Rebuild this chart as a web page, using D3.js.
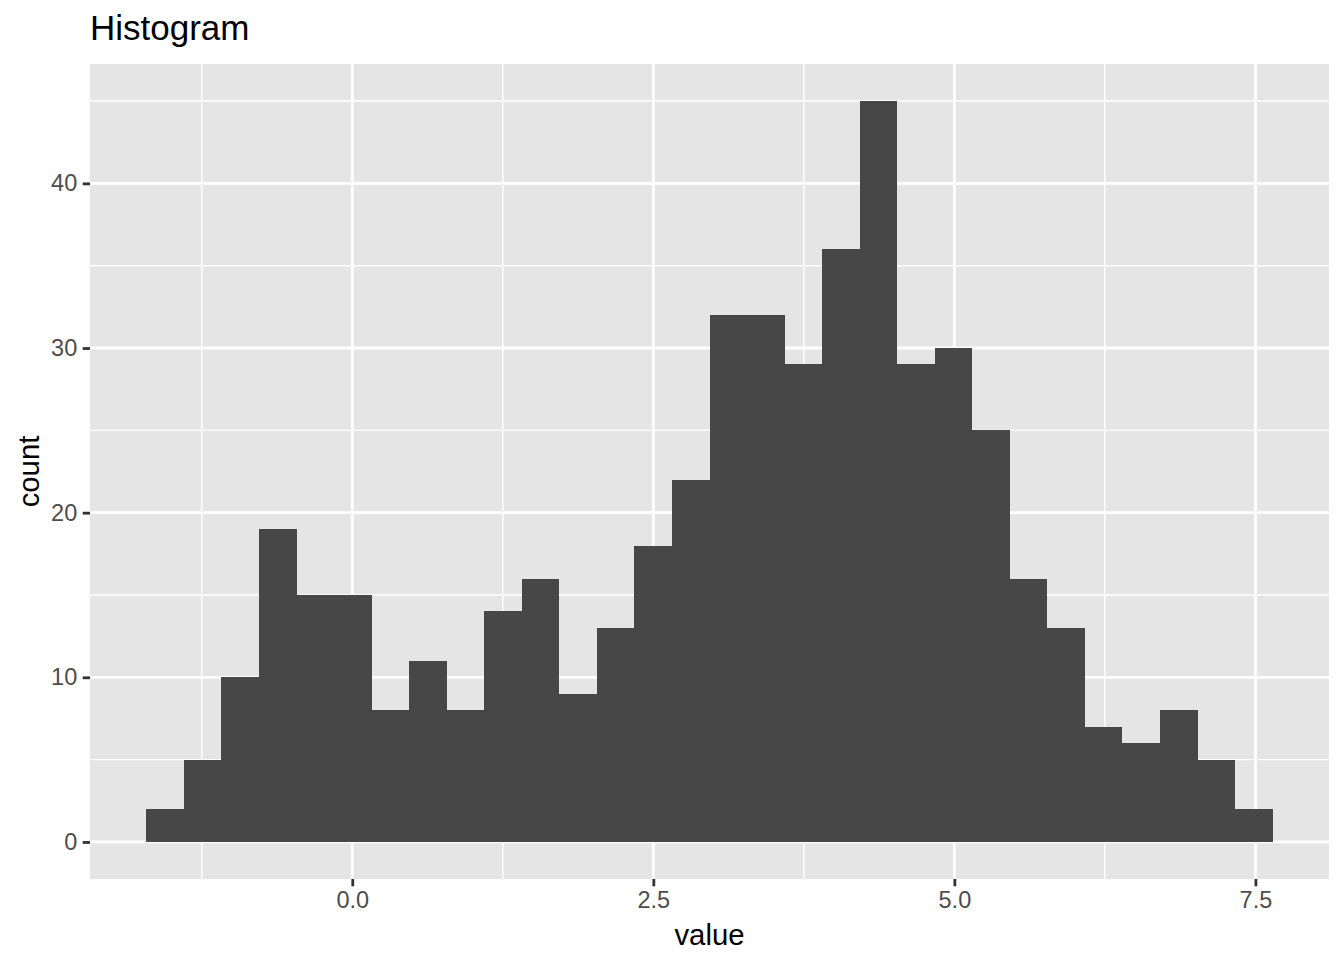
<!DOCTYPE html>
<html>
<head>
<meta charset="utf-8">
<script src="https://cdn.jsdelivr.net/npm/d3@7"></script>
<style>
  html, body { margin: 0; padding: 0; background: #ffffff; }
  svg text { font-family: "Liberation Sans", Arial, Helvetica, sans-serif; }
</style>
</head>
<body>
<svg id="chart" width="1344" height="960"></svg>
<script>
// ---- Data ----
const binEdges = [-1.710, -1.398, -1.086, -0.775, -0.463, -0.151, 0.161, 0.472, 0.784, 1.096,
                  1.408, 1.720, 2.031, 2.343, 2.655, 2.967, 3.278, 3.590, 3.902, 4.214,
                  4.525, 4.837, 5.149, 5.461, 5.773, 6.084, 6.396, 6.708, 7.020, 7.331, 7.643];
const counts = [2, 5, 10, 19, 15, 15, 8, 11, 8, 14,
                16, 9, 13, 18, 22, 32, 32, 29, 36, 45,
                29, 30, 25, 16, 13, 7, 6, 8, 5, 2];
const xTicks = [0, 2.5, 5, 7.5];
const xMinor = [-1.25, 1.25, 3.75, 6.25];
const yTicks = [0, 10, 20, 30, 40];
const yMinor = [5, 15, 25, 35, 45];
const titleText = "Histogram";
const xTitle = "value";
const yTitle = "count";

// ---- Layout ----
const panel = { left: 90, right: 1329, top: 64, bottom: 879 };
const svg = d3.select("#chart");

const x = d3.scaleLinear().domain([-2.178, 8.111]).range([panel.left, panel.right]);
const y = d3.scaleLinear().domain([-2.25, 47.25]).range([panel.bottom, panel.top]);

// Panel background
svg.append("rect")
  .attr("x", panel.left).attr("y", panel.top)
  .attr("width", panel.right - panel.left).attr("height", panel.bottom - panel.top)
  .attr("fill", "#E5E5E5");

const grid = svg.append("g");
// minor grid
grid.selectAll("line.xminor").data(xMinor).join("line")
  .attr("x1", d => x(d)).attr("x2", d => x(d))
  .attr("y1", panel.top).attr("y2", panel.bottom)
  .attr("stroke", "#ffffff").attr("stroke-width", 1.4);
grid.selectAll("line.yminor").data(yMinor).join("line")
  .attr("y1", d => y(d)).attr("y2", d => y(d))
  .attr("x1", panel.left).attr("x2", panel.right)
  .attr("stroke", "#ffffff").attr("stroke-width", 1.4);
// major grid
grid.selectAll("line.xmajor").data(xTicks).join("line")
  .attr("x1", d => x(d)).attr("x2", d => x(d))
  .attr("y1", panel.top).attr("y2", panel.bottom)
  .attr("stroke", "#ffffff").attr("stroke-width", 2.8);
grid.selectAll("line.ymajor").data(yTicks).join("line")
  .attr("y1", d => y(d)).attr("y2", d => y(d))
  .attr("x1", panel.left).attr("x2", panel.right)
  .attr("stroke", "#ffffff").attr("stroke-width", 2.8);

// Bars
const bins = counts.map((c, i) => ({ x0: binEdges[i], x1: binEdges[i + 1], count: c }));
svg.append("g").selectAll("rect").data(bins).join("rect")
  .attr("x", d => x(d.x0))
  .attr("width", d => x(d.x1) - x(d.x0))
  .attr("y", d => y(d.count))
  .attr("height", d => y(0) - y(d.count))
  .attr("fill", "#474747")
  .attr("shape-rendering", "crispEdges");

// Axes
const xAxis = d3.axisBottom(x).tickValues(xTicks).tickFormat(d3.format(".1f"))
  .tickSize(7.3).tickPadding(5.5);
const gx = svg.append("g").attr("transform", `translate(0,${panel.bottom})`).call(xAxis);
gx.select(".domain").remove();
gx.selectAll(".tick line").attr("stroke", "#333333").attr("stroke-width", 2.8);
gx.selectAll(".tick text").attr("fill", "#4D4D4D").style("font-size", "23.5px");

const yAxis = d3.axisLeft(y).tickValues(yTicks).tickFormat(d3.format("d"))
  .tickSize(7.3).tickPadding(5.5);
const gy = svg.append("g").attr("transform", `translate(${panel.left},0)`).call(yAxis);
gy.select(".domain").remove();
gy.selectAll(".tick line").attr("stroke", "#333333").attr("stroke-width", 2.8);
gy.selectAll(".tick text").attr("fill", "#4D4D4D").style("font-size", "23.5px");

// Titles
svg.append("text")
  .attr("x", panel.left).attr("y", 40)
  .attr("fill", "#000000").style("font-size", "35px")
  .text(titleText);

svg.append("text")
  .attr("x", (panel.left + panel.right) / 2).attr("y", 945)
  .attr("text-anchor", "middle")
  .attr("fill", "#000000").style("font-size", "29.3px")
  .text(xTitle);

svg.append("text")
  .attr("transform", `translate(39,${(panel.top + panel.bottom) / 2}) rotate(-90)`)
  .attr("text-anchor", "middle")
  .attr("fill", "#000000").style("font-size", "29.3px")
  .text(yTitle);
</script>
</body>
</html>
